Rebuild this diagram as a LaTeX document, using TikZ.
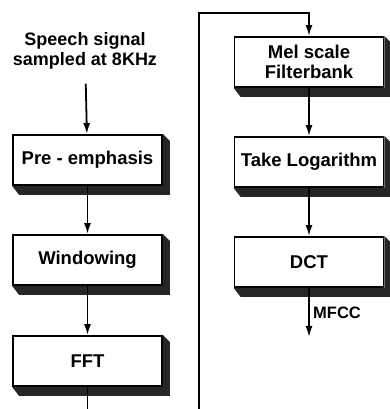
\documentclass[tikz,border=0pt]{standalone}
\usepackage{fontspec}
\setmainfont{Liberation Sans}
\usetikzlibrary{arrows.meta,positioning,calc}
\tikzstyle{block} = [draw, fill=white, rectangle, line width=1.8pt, minimum height=50pt, minimum width=149pt, align=center, font=\fontsize{18.5}{20}\selectfont\bfseries]
\tikzstyle{signal} = [align=center, font=\fontsize{18}{20}\selectfont\bfseries]
\tikzstyle{output} = [coordinate]
\tikzstyle{shadow3d} = [fill=black!85]

\begin{document}
\begin{tikzpicture}[auto, node distance=100pt, >={Latex[length=11pt,width=7pt]}, line width=1.8pt]
    \useasboundingbox (0,0) rectangle (390pt,409pt);
    % Left column
    \node [signal] (speech) at (85pt,358pt) {Speech signal\\sampled at 8KHz};
    \node [block, below of=speech, node distance=109pt, xshift=2.5pt] (preemph) {Pre - emphasis};
    \node [block, below of=preemph] (window) {Windowing};
    \node [block, below of=window, node distance=101pt] (fft) {FFT};
    \coordinate (fftout) at (87.5pt,0);
    % Right column
    \coordinate (loopin) at (199pt,0);
    \coordinate (looptop) at (199pt,396pt);
    \node [block] (melbank) at (309pt,347pt) {Mel scale\\Filterbank};
    \node [block, below of=melbank] (logarithm) {Take Logarithm};
    \node [block, below of=logarithm] (dct) {DCT};
    \node [output] (mfcc) at (309pt,72pt) {};

    % 3D edges
    \foreach \b in {preemph,window,fft,melbank,logarithm,dct}
        \fill [shadow3d] (\b.north east) -- ++(7pt,-7pt) -- ($(\b.south east)+(7pt,-9pt)$)
            -- ($(\b.south west)+(7pt,-9pt)$) -- (\b.south west) -- (\b.south east) -- cycle;

    % Connections
    \draw [->, shorten <=10pt] (speech) -- (preemph);
    \draw [->] (preemph) -- (window);
    \draw [->] (window) -- (fft);
    \draw (fft) -- (fftout);
    \draw [->] (loopin) -- (looptop) -| (melbank);
    \draw [->] (melbank) -- (logarithm);
    \draw [->] (logarithm) -- (dct);
    \draw [->] (dct) -- node [right, font=\fontsize{16.5}{18}\selectfont\bfseries] {MFCC} (mfcc);
\end{tikzpicture}
\end{document}
